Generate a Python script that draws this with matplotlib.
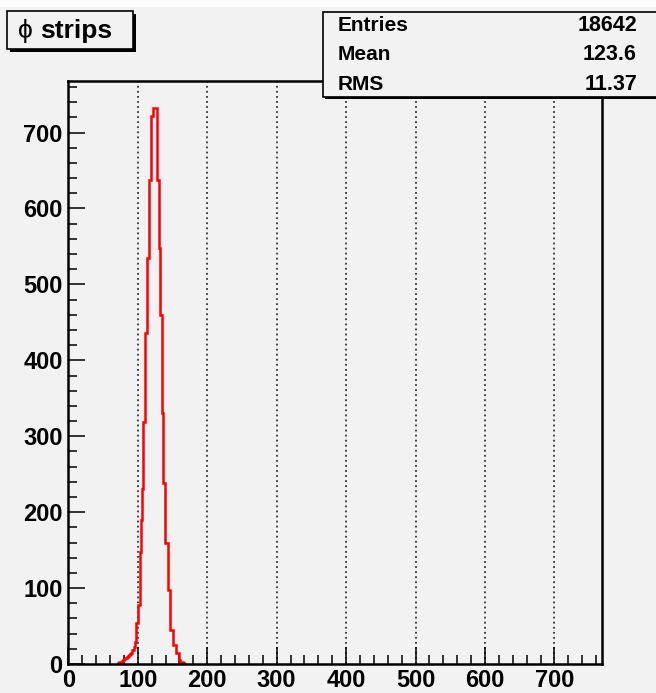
import numpy as np
import matplotlib
matplotlib.use('Agg')
import matplotlib.pyplot as plt
from matplotlib.patches import Rectangle
from matplotlib.ticker import MultipleLocator

plt.rcParams['font.family'] = ['Liberation Sans', 'DejaVu Sans']
plt.rcParams['font.weight'] = 'bold'

# strip occupancy, one bin per strip (0..768)
n_strips = 768
first_strip = 71
counts = [1, 1, 2, 2, 3, 3, 4, 4, 5, 6,
          7, 8, 8, 8, 9, 10, 11, 12, 13, 14,
          18, 18, 18, 20, 22, 29, 29, 54, 54, 54,
          78, 78, 148, 148, 190, 231, 319, 319, 319, 436,
          436, 436, 436, 535, 535, 638, 638, 638, 722, 722,
          722, 732, 732, 732, 732, 732, 638, 638, 638, 548,
          548, 460, 460, 460, 331, 331, 238, 238, 159, 159,
          159, 159, 97, 97, 97, 45, 45, 45, 45, 45,
          25, 25, 25, 25, 14, 14, 14, 14, 5, 5,
          3, 3, 2, 2, 1]

stat_names = ['Entries', 'Mean', 'RMS']
stat_values = ['18642', '123.6', '11.37']
title_symbol = '\u03d5'
title_word = 'strips'

W, H = 656, 693
bg = '#f2f2f2'


def px(x, y):
    """pixel position (from top-left) -> figure fraction"""
    return x / W, 1 - y / H


fig = plt.figure(figsize=(W / 100, H / 100), dpi=100, facecolor=bg)
# thin white strip along the top of the canvas
fig.patches.append(Rectangle(px(0, 7), 1, 7 / H, transform=fig.transFigure,
                             facecolor='white', edgecolor='none', zorder=0))

left, right, top, bottom = 68.3, 601.7, 80.5, 664
ax = fig.add_axes([left / W, 1 - bottom / H, (right - left) / W, (bottom - top) / H])
ax.set_facecolor(bg)

edges = np.arange(first_strip, first_strip + len(counts) + 1)
ax.stairs(counts, edges, color='red', linewidth=1.8, baseline=0, zorder=2)

ax.set_xlim(0, n_strips)
ax.set_ylim(0, 1.05 * max(counts))

ax.xaxis.set_major_locator(MultipleLocator(100))
ax.xaxis.set_minor_locator(MultipleLocator(20))
ax.yaxis.set_major_locator(MultipleLocator(100))
ax.yaxis.set_minor_locator(MultipleLocator(20))

ax.tick_params(which='both', direction='in', top=False, right=False,
               width=1.1, color='black', labelsize=17)
ax.tick_params(which='major', length=12.5)
ax.tick_params(which='minor', length=6.5)
ax.tick_params(axis='x', pad=3.5)
ax.tick_params(axis='y', pad=4)
for lab in ax.get_xticklabels() + ax.get_yticklabels():
    lab.set_fontweight('bold')

for s in ax.spines.values():
    s.set_linewidth(1.8)
    s.set_color('black')

# dotted vertical grid at the major x ticks
for xv in range(100, n_strips, 100):
    ax.axvline(xv, color='#333333', linewidth=1.3, linestyle=(0, (1, 1.8)), zorder=1)

# title box with drop shadow
def shadow_box(x0, y0, x1, y1, off=3):
    fig.patches.append(Rectangle(px(x0 + off, y1 + off), (x1 - x0) / W, (y1 - y0) / H,
                                 transform=fig.transFigure, facecolor='black',
                                 edgecolor='none', zorder=5))
    fig.patches.append(Rectangle(px(x0, y1), (x1 - x0) / W, (y1 - y0) / H,
                                 transform=fig.transFigure, facecolor=bg,
                                 edgecolor='black', linewidth=1.2, zorder=6))

shadow_box(7, 10.7, 133, 48.5)
fig.text(*px(18, 31), title_symbol, fontsize=19, fontweight='normal',
         ha='left', va='center', zorder=7)
fig.text(*px(40, 31), title_word, fontsize=19, fontweight='bold',
         ha='left', va='center', zorder=7)

# statistics box
shadow_box(322.7, 11.7, 662, 97, off=2)
for i, (name, val) in enumerate(zip(stat_names, stat_values)):
    yy = 25.5 + i * 29.5
    fig.text(*px(338, yy), name, fontsize=15, fontweight='bold',
             ha='left', va='center', zorder=7)
    fig.text(*px(637, yy), val, fontsize=15.5, fontweight='bold',
             ha='right', va='center', zorder=7)

fig.savefig('out.png', dpi=100, facecolor=bg)
